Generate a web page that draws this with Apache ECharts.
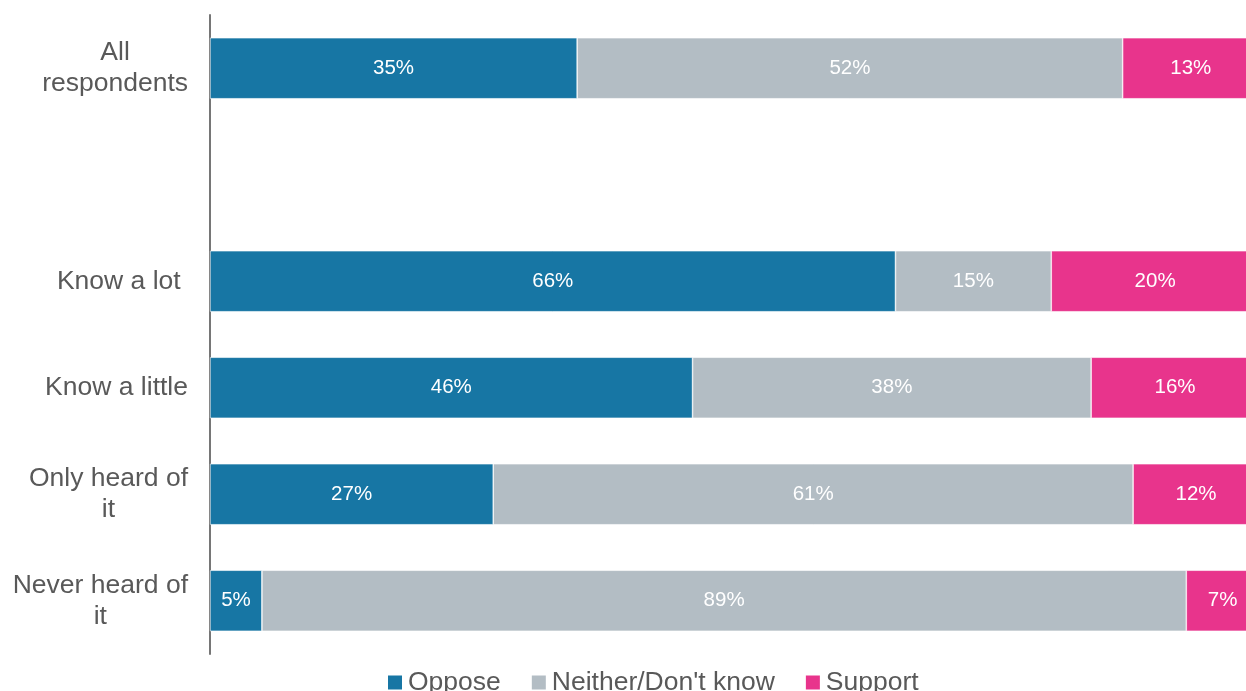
<!DOCTYPE html>
<html>
<head>
<meta charset="utf-8">
<script src="https://cdn.jsdelivr.net/npm/echarts@6/dist/echarts.min.js"></script>
<style>
html,body{margin:0;padding:0;background:#fff;}
#chart{width:1246px;height:691px;}
</style>
</head>
<body>
<div id="chart"></div>
<script>
// Categories (top to bottom); the empty one is the spacer row
const categories = ["All\nrespondents", "", "Know a lot ", "Know a little", "Only heard of\nit", "Never heard of\nit"];
// Displayed percentages per row
const oppose  = [35, null, 66, 46, 27, 5];
const neither = [52, null, 15, 38, 61, 89];
const support = [13, null, 20, 16, 12, 7];
const seriesNames = ["Oppose", "Neither/Don't know", "Support"];
const colors = ["#1776A4", "#B3BDC4", "#E8348C"];

// 100% stacked: each row is scaled to its own total, as the original chart does
const rowTotals = categories.map((c, i) => (oppose[i] || 0) + (neither[i] || 0) + (support[i] || 0));
function share(arr) {
  return arr.map((v, i) => v == null ? null : { value: v / rowTotals[i] * 100, shown: v });
}

const chart = echarts.init(document.getElementById('chart'), null, {renderer: 'canvas'});
const font = "'Liberation Sans', Arial, sans-serif";

const raw = [oppose, neither, support];
const option = {
  animation: false,
  backgroundColor: '#ffffff',
  grid: { left: 210, width: 1049, top: 15, height: 639, containLabel: false, outerBoundsMode: 'none' },
  xAxis: {
    type: 'value', min: 0, max: 100, show: false
  },
  yAxis: {
    type: 'category',
    inverse: true,
    data: categories,
    axisLine: { show: true, lineStyle: { color: '#767676', width: 2 } },
    axisTick: { show: false },
    splitLine: { show: false },
    axisLabel: {
      margin: 22,
      align: 'right',
      color: '#595959',
      fontFamily: font,
      fontSize: 26.5,
      lineHeight: 31,
      formatter: function (v) {
        if (!v) return '';
        return v.split('\n').map(l => '{c|' + l + '}').join('\n');
      },
      rich: {
        c: { align: 'center', color: '#595959', fontFamily: font, fontSize: 26.5, lineHeight: 31 }
      }
    }
  },
  legend: {
    left: 381,
    top: 664,
    itemWidth: 16,
    itemHeight: 16,
    itemGap: 29,
    icon: 'rect',
    data: seriesNames,
    textStyle: { color: '#595959', fontFamily: font, fontSize: 26.5 }
  },
  series: seriesNames.map((name, k) => ({
    name: name,
    type: 'bar',
    stack: 'total',
    barWidth: 61,
    itemStyle: { color: colors[k], borderColor: '#ffffff', borderWidth: 0.6 },
    label: {
      show: true,
      position: 'inside',
      color: '#ffffff',
      fontFamily: font,
      fontSize: 20.5,
      formatter: p => p.data && p.data.shown != null ? p.data.shown + '%' : ''
    },
    data: share(raw[k])
  }))
};
chart.setOption(option);
</script>
</body>
</html>
